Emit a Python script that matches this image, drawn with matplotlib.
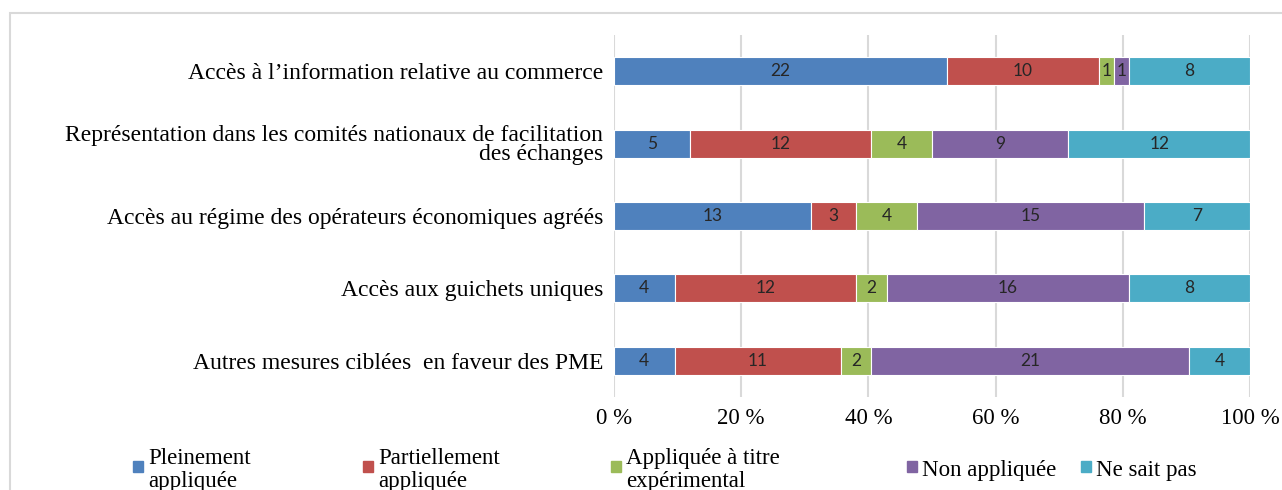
import matplotlib
matplotlib.use("Agg")
import matplotlib.pyplot as plt
from matplotlib.patches import Rectangle
import numpy as np

categories = [
    "Autres mesures ciblées  en faveur des PME",
    "Accès aux guichets uniques",
    "Accès au régime des opérateurs économiques agréés",
    "Représentation dans les comités nationaux de facilitation\ndes échanges",
    "Accès à l’information relative au commerce",
]
series_names = ["Pleinement\nappliquée", "Partiellement\nappliquée",
                "Appliquée à titre\nexpérimental", "Non appliquée", "Ne sait pas"]
pleinement = [4, 4, 13, 5, 22]
partiellement = [11, 12, 3, 12, 10]
experimental = [2, 2, 4, 4, 1]
non_appliquee = [21, 16, 15, 9, 1]
ne_sait_pas = [4, 8, 7, 12, 8]
xtick_labels = ["0 %", "20 %", "40 %", "60 %", "80 %", "100 %"]

colors = ["#4F81BD", "#C0504D", "#9BBB59", "#8064A2", "#4BACC6"]
serif = "Liberation Serif"
sans = "Lato"
fs = 16.5

W, H = 1282, 490
fig = plt.figure(figsize=(W / 100, H / 100), dpi=100)
ax = fig.add_axes([614 / W, 1 - 397 / H, (1250 - 614) / W, (397 - 35) / H])

data = np.array([pleinement, partiellement, experimental, non_appliquee, ne_sait_pas], dtype=float)
totals = data.sum(axis=0)
pct = data / totals * 100
y = np.arange(len(categories))
left = np.zeros(len(categories))
for i in range(len(series_names)):
    bars = ax.barh(y, pct[i], left=left, height=0.385, color=colors[i],
                   edgecolor="white", linewidth=0.8, zorder=3)
    for j, b in enumerate(bars):
        ax.text(left[j] + pct[i][j] / 2, y[j], f"{int(data[i][j])}",
                ha="center", va="center", fontsize=12.5, family=sans,
                color="#262626", zorder=4)
    left += pct[i]

ax.set_xlim(0, 100)
ax.set_ylim(-0.5, len(categories) - 0.5)
ax.set_xticks(np.arange(0, 101, 20))
ax.set_xticklabels(xtick_labels, family=serif, fontsize=fs)
ax.set_yticks(y)
ax.set_yticklabels(categories, family=serif, fontsize=17, linespacing=0.9)
ax.tick_params(axis="y", length=0, pad=8)
ax.tick_params(axis="x", length=0, pad=8)
ax.grid(axis="x", color="#D9D9D9", linewidth=1.5, zorder=0)
for s in ax.spines.values():
    s.set_visible(False)

# outer frame
fig.patches.append(Rectangle((10 / W, -0.1), 1.2, 1 - 13 / H + 0.1, transform=fig.transFigure,
                             fill=False, edgecolor="#D9D9D9", linewidth=1.5))

# legend
leg_x = [133, 363, 611, 907, 1081]
for xp, name, c in zip(leg_x, series_names, colors):
    fig.patches.append(Rectangle((xp / W, 1 - 472 / H), 10 / W, 11 / H,
                                 transform=fig.transFigure, color=c))
    fig.text((xp + 15) / W, 1 - 470 / H, name, family=serif, fontsize=fs,
             ha="left", va="center", linespacing=1.1)

fig.savefig("out.png", dpi=100)
